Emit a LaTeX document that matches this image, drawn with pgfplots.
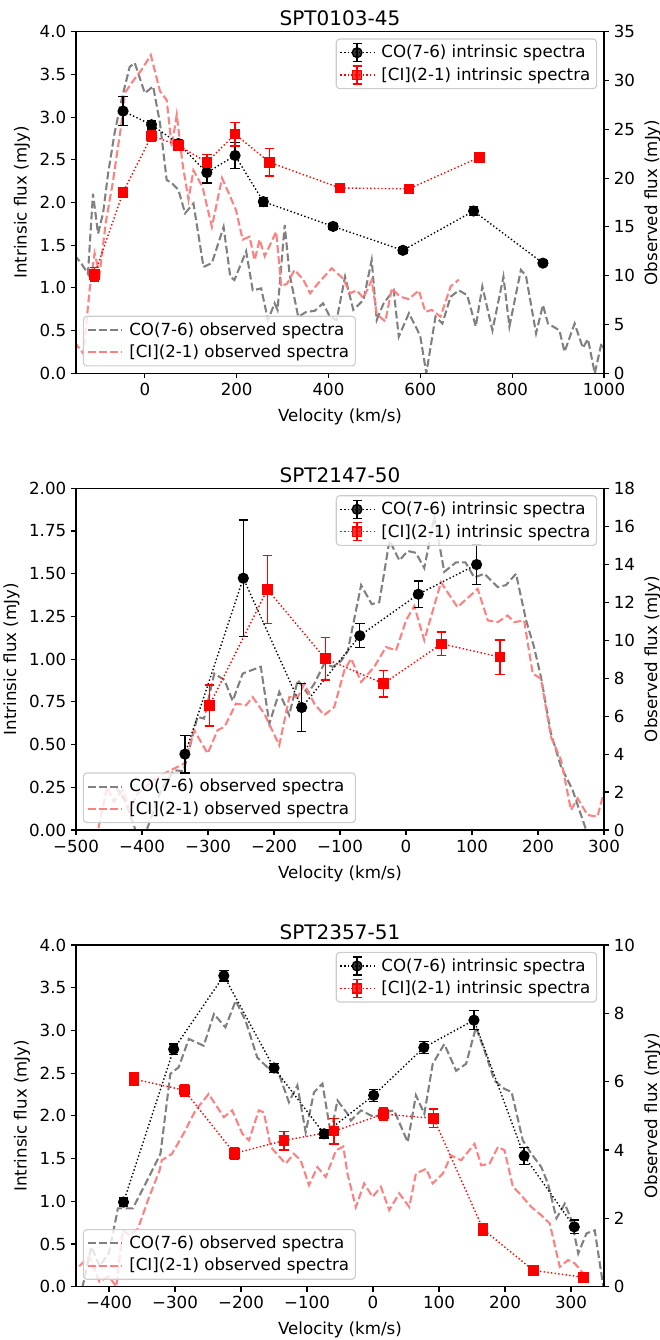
\documentclass[border=0pt]{standalone}
\usepackage{fontspec}
\setmainfont{DejaVu Sans}
\usepackage{pgfplots}
\pgfplotsset{compat=1.18}
\usepackage{pgfplotstable}

\definecolor{obsgray}{RGB}{128,128,128}
\definecolor{obsred}{RGB}{255,128,128}
\definecolor{legedge}{RGB}{204,204,204}

\pgfplotsset{
 base/.style={scale only axis, width=380.16pt, height=246pt, anchor=south west,
   axis line style={line width=0.8pt},
   every tick/.style={black, line width=0.8pt},
   major tick length=3.5pt, tick align=outside, scaled ticks=false,
   tick label style={font=\fontsize{12}{14}\selectfont},
   label style={font=\fontsize{12}{14}\selectfont},
   /pgf/number format/assume math mode=true,
   legend style={font=\fontsize{12}{14}\selectfont, draw=legedge, fill=white, fill opacity=0.8, text opacity=1, draw opacity=1, rounded corners=2.5pt, inner xsep=2.5pt, inner ysep=2.5pt, row sep=1.5pt, line width=0.8pt,
     /tikz/every odd column/.append style={column sep=3pt}},
   legend cell align=left,
 },
 leftax/.style={base, xtick pos=left, ytick pos=left,
   title style={font=\fontsize{14.4}{17}\selectfont, yshift=-5.5pt},
   xlabel={Velocity (km/s)}, ylabel={Intrinsic flux (mJy)},
   xlabel style={yshift=-2.5pt},
   legend style={at={(0.987,0.98)}, anchor=north east},
   legend image code/.code={%
     \draw[##1] (0pt,0pt) -- (24pt,0pt);
     \draw[##1, solid, line width=1pt] (12pt,-6.5pt) -- (12pt,6.5pt) (8.7pt,-6.5pt) -- (15.3pt,-6.5pt) (8.7pt,6.5pt) -- (15.3pt,6.5pt);
     \draw[##1] plot coordinates {(12pt,0pt)};
   }},
 rightax/.style={base, axis x line=none, axis y line*=right, ylabel={Observed flux (mJy)},
   legend style={at={(0.013,0.02)}, anchor=south west},
   legend image code/.code={\draw[##1] (0pt,0pt) -- (24pt,0pt);}},
 cospec/.style={obsgray, line width=1.5pt, dash pattern=on 5.55pt off 2.4pt},
 cispec/.style={obsred, line width=1.5pt, dash pattern=on 5.55pt off 2.4pt},
 copts/.style={black, line width=1pt, dash pattern=on 1pt off 1.65pt, mark=*, mark size=3.5pt, mark options={solid, fill=black, line width=1pt},
   error bars/.cd, y dir=both, y explicit, error bar style={line width=1pt, solid}, error mark options={rotate=90, mark size=3.4pt, line width=1pt, solid}},
 cipts/.style={red, line width=1pt, dash pattern=on 1pt off 1.65pt, mark=square*, mark size=3.3pt, mark options={solid, fill=red, line width=1pt},
   error bars/.cd, y dir=both, y explicit, error bar style={line width=1pt, solid}, error mark options={rotate=90, mark size=3.4pt, line width=1pt, solid}},
}

% ---------------- Panel 1: SPT0103-45 ----------------
\pgfplotstableread{
v f e
-47.5 3.07 0.17
14.6 2.91 0.05
73 2.69 0.05
135 2.35 0.12
196.5 2.55 0.15
258 2.01 0.05
410 1.72 0.03
562 1.44 0.03
716 1.90 0.05
867 1.29 0.03
}\coptsA
\pgfplotstableread{
v f e
-109.5 1.16 0.08
-47.5 2.12 0.05
14.6 2.78 0.06
73 2.67 0.06
135 2.47 0.09
196.5 2.80 0.14
271.6 2.47 0.16
425 2.17 0.03
575 2.16 0.03
729 2.53 0.04
}\ciptsA
\pgfplotstableread{
v m
-153 12.1
-139 11.3
-124 10.2
-113 18.4
-102 14.3
-91 16.4
-80 20.5
-66 24.6
-51 28.0
-33 31.4
-22 31.8
0 28.7
18 29.4
33 25.6
47.5 19.8
58.5 19.5
73 18.8
87.6 16.4
105.8 17.4
127.7 10.9
146 11.3
171.5 15.0
186 9.9
195 9.56
220.6 12.5
235 8.5
253.4 8.7
268 5.46
282.6 7.17
289 6.5
304.5 15.2
315 10.2
334 5.8
352 6.3
370 6.4
388 7.17
403 5.8
417.7 5.46
436 9.9
454 6.5
476 7.5
494 11.6
505 5.46
520 7.17
542 8.5
553 3.75
575 6.15
593 4.5
600 3.75
613 0
633 5.8
648 5.1
666 7.85
684 8.5
702 8.0
720.7 4.8
735 8.9
757 4.4
781 9.9
794 4.8
819 10.6
830 10.0
852 4.1
867 7.0
878 5.1
903 4.4
914 2.2
936 5.1
954 2.6
965 3.5
980 0
994.5 3.1
1000 2.5
}\cospecA
\pgfplotstableread{
v m
-153 3.2
-134 2.0
-120 8.7
-109.5 12.3
-98.6 10.2
-85 15.5
-70 19.5
-51 25.6
-44 28.7
-25 30.0
-7 31.1
13 32.6
33 28.9
47.5 28.0
58.5 23.2
69.4 26.5
82 21.5
95 17.8
105.8 20.8
125.5 19.1
146 15.0
168 20.0
186 18.1
198.6 16.7
213 13.7
228 14.0
239 11.6
250 13.7
261 12.0
286 14.5
297 8.9
310 9.2
326 10.6
345 9.6
360 8.2
377 9.2
407 10.76
432 9.7
447 8.2
461.6 8.5
476 7.7
494 9.56
505 6.1
523.6 5.3
538 8.7
556 7.85
575 7.6
596.6 8.5
611 6.3
625 6.5
644 5.8
666 8.9
684 9.6
}\cispecA

% ---------------- Panel 2: SPT2147-50 ----------------
\pgfplotstableread{
v f e
-335 0.444 0.11
-246.5 1.474 0.34
-158 0.717 0.14
-70 1.137 0.07
18.6 1.380 0.077
107 1.554 0.117
}\coptsB
\pgfplotstableread{
v f e
-298 0.728 0.12
-210 1.408 0.20
-122.3 1.003 0.125
-34 0.857 0.078
54 1.090 0.07
142.4 1.012 0.10
}\ciptsB
\pgfplotstableread{
v m
-440 2.3
-425 1.5
-408 -0.2
-395 -0.2
-371 2.1
-352 3.15
-337 3.1
-316 5.96
-306 5.87
-290.5 8.24
-275 7.9
-262.6 6.8
-247.5 8.24
-220 8.6
-207 5.6
-192 7.27
-177 6.05
-164 7.9
-149 7.19
-139 7.7
-124 8.76
-111 8.6
-98.5 8.9
-88.4 9.4
-68 12.9
-52 11.9
-40.5 12.0
-25 15.25
-10 14.2
2.6 14.7
15 14.6
27.7 13.8
43 16.5
58 13.6
75.8 14.1
90 14.1
103.5 13.3
118.6 13.5
139 12.8
151.5 12.9
166.7 13.5
182 11.04
194 9.64
204.5 8.06
219.7 5.08
235 3.33
252.5 2.1
267.7 0.53
278 -0.5
}\cospecB
\pgfplotstableread{
v m
-466 0.1
-453 2.28
-443 1.5
-429 2.1
-419 1.05
-406.6 1.93
-390 2.4
-371 2.9
-353.5 3.2
-336 3.5
-321 5.26
-300.5 4.03
-285.4 5.26
-275 5.43
-257.6 6.66
-242.4 6.57
-232.3 7.0
-214.7 6.13
-192 4.47
-176.8 7.0
-164 7.0
-154 7.7
-139 6.66
-124 6.05
-108.6 6.48
-93.5 8.4
-83 9.03
-68 7.8
-48 8.6
-30.3 9.64
-15 9.46
0 11.04
12.6 11.8
27.7 10.0
53 13.05
78 11.74
108.6 12.7
124 11.04
139 10.95
154 11.3
164 10.95
179 11.04
192 8.24
204.5 7.97
219.7 4.9
235 3.68
250 1.05
260 1.67
275 0.79
290 0.7
300 2.0
}\cispecB

% ---------------- Panel 3: SPT2357-51 ----------------
\pgfplotstableread{
v f e
-378 0.99 0.05
-302 2.78 0.06
-226 3.64 0.06
-150 2.56 0.05
-74 1.79 0.05
1 2.24 0.07
77 2.80 0.07
153 3.12 0.11
229 1.53 0.10
305 0.70 0.08
}\coptsC
\pgfplotstableread{
v f e
-362 2.43 0.07
-286 2.30 0.07
-210 1.56 0.07
-135 1.71 0.11
-59 1.82 0.15
16 2.02 0.07
92 1.97 0.11
167 0.67 0.07
243 0.19 0.04
319 0.11 0.05
}\ciptsC
\pgfplotstableread{
v m
-450 -0.3
-440 0.0
-427 1.17
-414 0.6
-400 1.0
-389 2.04
-386.6 2.29
-364 2.29
-345 3.0
-322 3.89
-307 6.23
-294.5 6.42
-279 7.25
-256.5 7.05
-241 7.98
-223.6 7.59
-208 8.37
-193 7.78
-175.4 6.71
-160 6.42
-142.6 6.23
-127.4 5.4
-114.6 5.89
-102 4.52
-89.4 5.69
-76.6 5.94
-64 4.48
-53.8 5.45
-38.6 5.06
-33.6 4.86
-18 5.16
1.8 4.96
17 5.1
32 5.16
52.6 4.23
65 5.6
77.8 5.06
90.5 6.52
108 7.1
126 6.32
141 6.52
156 7.59
169 6.91
184 6.03
199 5.79
210 5.7
227 4.28
240 3.89
255 3.5
265 3.02
278 2.0
290.6 2.43
300.7 1.95
311 0.97
323.5 1.56
336 1.65
349 0
}\cospecC
\pgfplotstableread{
v m
-445 0.6
-430 0.88
-414.6 0.15
-400 0.3
-389 0.0
-379 1.65
-369 1.51
-356 1.7
-341 2.53
-323.4 3.4
-320 3.7
-304.5 3.89
-287 4.48
-269 5.16
-249 5.64
-226 4.96
-213.4 5.16
-198 4.48
-188 4.28
-173 5.16
-165.4 5.1
-155 4.09
-132.4 3.6
-120 3.89
-109.6 3.7
-97 2.97
-84.2 3.5
-71.6 3.21
-56 3.99
-45 4.1
-38.6 3.3
-26 2.33
-13.4 3.02
-0.6 2.63
12 2.92
24.6 2.24
39.8 2.73
55 2.33
65 3.31
80.4 3.45
90.5 3.02
105.8 3.31
118.4 3.84
133.6 3.7
153.8 4.18
164 3.55
176.6 3.6
189.4 4.09
199.4 3.99
212 2.92
222 2.73
240 2.33
255 2.09
267.8 1.85
283 0.58
295.7 0.78
305.8 0.68
318.5 0.39
}\cispecC

\begin{document}
\begin{tikzpicture}
\useasboundingbox (0,0) rectangle (475.2pt,964.8pt);

% ===== Panel 1 =====
\begin{axis}[rightax, at={(54.72pt,696pt)}, xmin=-150, xmax=1000, ymin=0, ymax=35, ytick={0,5,...,35}]
\addplot[cospec] table[x=v,y=m] {\cospecA};
\addlegendentry{CO(7-6) observed spectra}
\addplot[cispec] table[x=v,y=m] {\cispecA};
\addlegendentry{[CI](2-1) observed spectra}
\end{axis}
\begin{axis}[leftax, at={(54.72pt,696pt)}, title={SPT0103-45}, xmin=-150, xmax=1000, ymin=0, ymax=4,
  xtick={0,200,...,1000}, xticklabels={0,200,400,600,800,1000}, ytick={0,0.5,...,4},
  yticklabel style={/pgf/number format/.cd, fixed, fixed zerofill, precision=1}]
\addplot[copts] table[x=v,y=f,y error=e] {\coptsA};
\addlegendentry{CO(7-6) intrinsic spectra}
\addplot[cipts] table[x=v,y=f,y error=e] {\ciptsA};
\addlegendentry{[CI](2-1) intrinsic spectra}
\end{axis}

% ===== Panel 2 =====
\begin{axis}[rightax, at={(54.72pt,367.2pt)}, xmin=-500, xmax=300, ymin=0, ymax=18, ytick={0,2,...,18}]
\addplot[cospec] table[x=v,y=m] {\cospecB};
\addlegendentry{CO(7-6) observed spectra}
\addplot[cispec] table[x=v,y=m] {\cispecB};
\addlegendentry{[CI](2-1) observed spectra}
\end{axis}
\begin{axis}[leftax, at={(54.72pt,367.2pt)}, title={SPT2147-50}, xmin=-500, xmax=300, ymin=0, ymax=2,
  xtick={-500,-400,...,300}, xticklabels={−500,−400,−300,−200,−100,0,100,200,300},
  ytick={0,0.25,...,2},
  yticklabel style={/pgf/number format/.cd, fixed, fixed zerofill, precision=2}]
\addplot[copts] table[x=v,y=f,y error=e] {\coptsB};
\addlegendentry{CO(7-6) intrinsic spectra}
\addplot[cipts] table[x=v,y=f,y error=e] {\ciptsB};
\addlegendentry{[CI](2-1) intrinsic spectra}
\end{axis}

% ===== Panel 3 =====
\begin{axis}[rightax, at={(54.72pt,38.4pt)}, xmin=-450, xmax=350, ymin=0, ymax=10, ytick={0,2,...,10}]
\addplot[cospec] table[x=v,y=m] {\cospecC};
\addlegendentry{CO(7-6) observed spectra}
\addplot[cispec] table[x=v,y=m] {\cispecC};
\addlegendentry{[CI](2-1) observed spectra}
\end{axis}
\begin{axis}[leftax, at={(54.72pt,38.4pt)}, title={SPT2357-51}, xmin=-450, xmax=350, ymin=0, ymax=4,
  xtick={-400,-300,...,300}, xticklabels={−400,−300,−200,−100,0,100,200,300},
  ytick={0,0.5,...,4},
  yticklabel style={/pgf/number format/.cd, fixed, fixed zerofill, precision=1}]
\addplot[copts] table[x=v,y=f,y error=e] {\coptsC};
\addlegendentry{CO(7-6) intrinsic spectra}
\addplot[cipts] table[x=v,y=f,y error=e] {\ciptsC};
\addlegendentry{[CI](2-1) intrinsic spectra}
\end{axis}
\end{tikzpicture}
\end{document}
